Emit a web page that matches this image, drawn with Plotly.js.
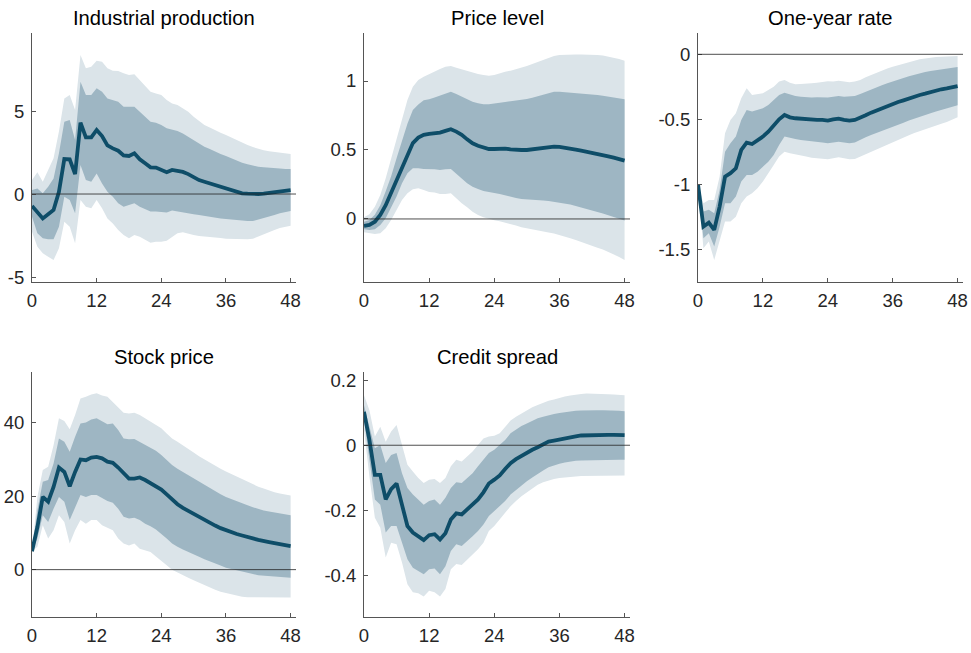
<!DOCTYPE html>
<html>
<head>
<meta charset="utf-8">
<script src="https://cdn.plot.ly/plotly-3.0.1.min.js"></script>
<style>html,body{margin:0;padding:0;background:#fff;}#chart{width:971px;height:653px;}</style>
</head>
<body>
<div id="chart"></div>
<script>
// Horizons (months)
const horizons = [0,1,2,3,4,5,6,7,8,9,10,11,12,13,14,15,16,17,18,19,20,21,22,23,24,25,26,27,28,29,30,31,32,33,34,35,36,37,38,39,40,41,42,43,44,45,46,47,48];

const panelTitles = ["Industrial production","Price level","One-year rate","Stock price","Credit spread"];

// Industrial production
const ipMedian = [-0.72,-1.06,-1.47,-1.22,-0.96,0.14,2.11,2.09,1.2,4.3, 3.41,3.41,3.86,3.49,2.93,2.75,2.61,2.33,2.29,2.45, 2.09,1.85,1.61,1.59,1.45,1.31,1.45,1.41,1.33,1.2, 1.0,0.84,0.74,0.64,0.52,0.44,0.34,0.22,0.12,0.04, 0.02,0.0,0.0,0.02,0.06,0.12,0.16,0.2,0.24];
const ip68Hi = [0.24,0.34,0.04,0.44,0.94,2.45,4.36,4.46,3.25,6.77, 5.96,5.96,6.37,6.16,5.76,5.66,5.56,5.26,5.26,5.26, 4.96,4.66,4.36,4.30,4.16,3.96,3.86,3.80,3.65,3.45, 3.25,3.05,2.85,2.71,2.55,2.41,2.29,2.15,2.01,1.89, 1.79,1.71,1.65,1.61,1.57,1.55,1.53,1.51,1.51];
const ip68Lo = [-1.37,-2.37,-2.67,-2.73,-2.73,-1.97,-0.16,-0.36,-1.16,1.75, 0.84,0.74,1.24,0.64,0.14,-0.16,-0.56,-0.76,-0.66,-0.56, -0.76,-0.92,-1.06,-1.06,-1.08,-1.12,-1.0,-1.08,-1.12,-1.16, -1.22,-1.27,-1.33,-1.37,-1.41,-1.47,-1.51,-1.55,-1.57,-1.61, -1.63,-1.63,-1.57,-1.47,-1.37,-1.27,-1.16,-1.08,-1.02];
const ip90Hi = [0.84,1.31,0.74,1.45,2.15,3.76,5.76,5.96,5.06,8.37, 7.57,7.67,8.03,7.97,7.57,7.43,7.41,7.27,7.17,7.21, 6.87,6.47,6.16,6.06,5.96,5.66,5.46,5.36,5.16,4.96, 4.66,4.42,4.16,4.0,3.82,3.69,3.55,3.39,3.25,3.09, 2.95,2.83,2.71,2.63,2.57,2.53,2.49,2.45,2.41];
const ip90Lo = [-2.27,-3.17,-3.57,-3.78,-3.98,-3.27,-1.67,-1.97,-2.97,-0.36, -0.76,-0.86,-0.36,-0.86,-1.47,-1.77,-2.17,-2.47,-2.67,-2.47, -2.57,-2.77,-2.93,-2.87,-2.87,-2.81,-2.57,-2.37,-2.31,-2.37, -2.47,-2.53,-2.57,-2.61,-2.63,-2.65,-2.69,-2.71,-2.73,-2.73, -2.73,-2.69,-2.57,-2.43,-2.31,-2.17,-2.05,-1.97,-1.91];

// Price level
const plMedian = [-0.05,-0.043,-0.02,0.03,0.10,0.19,0.28,0.38,0.47,0.55, 0.59,0.61,0.616,0.62,0.626,0.638,0.65,0.633,0.61,0.577, 0.548,0.531,0.517,0.507,0.507,0.51,0.51,0.505,0.5,0.5, 0.5,0.505,0.512,0.519,0.524,0.524,0.522,0.517,0.51,0.502, 0.495,0.488,0.481,0.473,0.464,0.454,0.444,0.435,0.423];
const pl68Hi = [-0.02,-0.007,0.03,0.10,0.20,0.31,0.44,0.57,0.69,0.79, 0.83,0.86,0.867,0.88,0.894,0.91,0.923,0.906,0.886,0.867, 0.85,0.838,0.831,0.831,0.838,0.843,0.848,0.853,0.857,0.862, 0.87,0.879,0.891,0.903,0.915,0.923,0.923,0.92,0.918,0.915, 0.913,0.908,0.903,0.899,0.894,0.886,0.879,0.872,0.867];
const pl68Lo = [-0.075,-0.08,-0.075,-0.043,0.005,0.077,0.162,0.258,0.331,0.367, 0.367,0.362,0.36,0.36,0.355,0.36,0.362,0.331,0.295,0.258, 0.234,0.217,0.203,0.193,0.188,0.181,0.174,0.162,0.152,0.145, 0.14,0.138,0.135,0.133,0.13,0.126,0.118,0.111,0.104,0.094, 0.085,0.075,0.063,0.051,0.039,0.027,0.014,0.002,-0.012];
const pl90Hi = [0.012,0.034,0.089,0.174,0.295,0.44,0.585,0.73,0.862,0.959, 1.007,1.031,1.051,1.068,1.087,1.104,1.109,1.097,1.085,1.072, 1.06,1.051,1.043,1.039,1.043,1.056,1.068,1.075,1.085,1.094, 1.109,1.123,1.138,1.152,1.169,1.181,1.188,1.191,1.193,1.193, 1.193,1.193,1.191,1.188,1.184,1.176,1.169,1.159,1.147];
const pl90Lo = [-0.097,-0.104,-0.109,-0.104,-0.068,-0.007,0.065,0.138,0.186,0.215, 0.222,0.21,0.196,0.191,0.181,0.181,0.186,0.15,0.114,0.085, 0.053,0.029,0.012,0,-0.01,-0.017,-0.024,-0.036,-0.048,-0.06, -0.07,-0.077,-0.085,-0.092,-0.099,-0.106,-0.116,-0.128,-0.14,-0.152, -0.164,-0.179,-0.193,-0.208,-0.222,-0.239,-0.256,-0.275,-0.297];

// One-year rate
const oyMedian = [-1.0,-1.326,-1.295,-1.351,-1.172,-0.941,-0.915,-0.877,-0.736,-0.679, -0.69,-0.664,-0.633,-0.595,-0.551,-0.5,-0.467,-0.485,-0.492,-0.497, -0.5,-0.505,-0.505,-0.505,-0.51,-0.5,-0.495,-0.505,-0.51,-0.505, -0.49,-0.469,-0.449,-0.431,-0.415,-0.397,-0.379,-0.367,-0.354,-0.338, -0.326,-0.313,-0.303,-0.29,-0.28,-0.269,-0.262,-0.251,-0.244];
const oy68Hi = [-1.0,-1.21,-1.197,-1.223,-1.044,-0.749,-0.685,-0.633,-0.505,-0.428, -0.441,-0.428,-0.415,-0.39,-0.351,-0.313,-0.295,-0.308,-0.321,-0.326, -0.331,-0.333,-0.331,-0.331,-0.333,-0.326,-0.321,-0.326,-0.326,-0.321, -0.305,-0.287,-0.269,-0.254,-0.238,-0.223,-0.208,-0.195,-0.182,-0.169, -0.156,-0.146,-0.136,-0.128,-0.121,-0.113,-0.108,-0.103,-0.097];
const oy68Lo = [-1.0,-1.415,-1.377,-1.479,-1.326,-1.146,-1.146,-1.095,-0.979,-0.928, -0.928,-0.903,-0.864,-0.826,-0.774,-0.697,-0.633,-0.641,-0.651,-0.659, -0.664,-0.672,-0.674,-0.679,-0.685,-0.679,-0.672,-0.679,-0.685,-0.679, -0.659,-0.638,-0.621,-0.603,-0.587,-0.572,-0.556,-0.541,-0.526,-0.51, -0.495,-0.479,-0.467,-0.454,-0.441,-0.428,-0.415,-0.403,-0.392];
const oy90Hi = [-1.0,-1.146,-1.121,-1.121,-0.941,-0.608,-0.505,-0.454,-0.338,-0.262, -0.313,-0.305,-0.3,-0.274,-0.249,-0.21,-0.197,-0.218,-0.231,-0.228, -0.228,-0.223,-0.218,-0.213,-0.208,-0.21,-0.203,-0.21,-0.215,-0.21, -0.197,-0.177,-0.159,-0.141,-0.126,-0.11,-0.095,-0.082,-0.069,-0.059, -0.049,-0.038,-0.031,-0.026,-0.021,-0.018,-0.015,-0.013,-0.013];
const oy90Lo = [-1.0,-1.492,-1.441,-1.582,-1.428,-1.287,-1.287,-1.249,-1.146,-1.095, -1.069,-1.031,-0.979,-0.915,-0.851,-0.787,-0.749,-0.762,-0.774,-0.779, -0.787,-0.795,-0.8,-0.803,-0.808,-0.8,-0.792,-0.8,-0.808,-0.805, -0.787,-0.767,-0.749,-0.731,-0.713,-0.695,-0.677,-0.659,-0.641,-0.623, -0.605,-0.59,-0.576,-0.562,-0.548,-0.535,-0.521,-0.505,-0.485];

// Stock price
const spMedian = [5.0,11.6,19.8,18.5,22.5,27.8,26.6,22.7,26.6,30.0, 29.8,30.5,30.7,30.3,29.4,29.1,27.8,26.2,24.8,24.8, 25.1,24.4,23.5,22.8,21.8,20.5,19.1,17.8,16.8,16.0, 15.1,14.2,13.5,12.7,12.0,11.3,10.7,10.2,9.7,9.3, 8.8,8.5,8.1,7.7,7.5,7.2,7.0,6.7,6.4];
const sp68Hi = [5.0,16.2,23.9,24.4,28.9,35.7,34.8,32.1,36.2,39.8, 40.1,40.9,41.2,40.5,39.6,39.8,38.0,35.7,35.5,35.6, 34.8,33.9,33.3,32.4,31.2,29.8,28.5,27.5,26.6,25.7, 24.8,23.9,23.0,22.1,21.2,20.5,19.8,19.2,18.5,18.0, 17.5,17.0,16.5,16.1,15.8,15.5,15.3,15.1,14.8];
const sp68Lo = [5.0,8.5,14.8,13.0,16.6,19.8,18.5,13.5,17.1,20.3, 19.8,20.3,20.3,19.4,18.7,18.2,16.6,14.4,13.9,14.1, 13.5,12.5,11.8,10.9,9.8,8.5,7.1,6.2,5.5,4.8, 4.1,3.5,2.8,2.2,1.6,1.1,0.5,0.1,-0.3,-0.6, -0.9,-1.2,-1.5,-1.6,-1.8,-1.9,-2.0,-2.1,-2.2];
const sp90Hi = [5.0,19.8,27.1,28.0,33.9,41.2,40.5,38.2,42.1,46.6, 47.1,47.7,48.0,47.4,47.1,45.7,44.2,42.7,42.5,42.7, 42.1,41.2,40.5,39.5,38.5,37.1,35.7,34.8,33.9,32.9, 31.9,30.9,30.0,29.1,28.2,27.5,26.7,26.0,25.3,24.5, 23.9,23.3,22.6,22.1,21.5,21.1,20.7,20.4,20.2];
const sp90Lo = [5.0,6.2,12.1,8.5,10.7,14.8,13.0,7.1,10.7,13.5, 12.5,13.5,13.5,12.1,11.4,10.7,8.5,7.1,6.6,7.1, 5.7,5.3,4.8,3.6,2.5,1.2,0,-0.9,-1.5,-2.2, -2.9,-3.6,-4.3,-4.9,-5.5,-6.0,-6.5,-6.8,-7.1,-7.4, -7.5,-7.6,-7.7,-7.7,-7.7,-7.6,-7.6,-7.6,-7.6];

// Credit spread
const csMedian = [0.103,0.016,-0.091,-0.091,-0.167,-0.135,-0.118,-0.183,-0.249,-0.269, -0.282,-0.292,-0.277,-0.274,-0.29,-0.271,-0.229,-0.21,-0.213,-0.198, -0.183,-0.167,-0.145,-0.118,-0.106,-0.093,-0.073,-0.055,-0.043,-0.033, -0.022,-0.014,-0.006,0.003,0.011,0.014,0.018,0.021,0.024,0.027, 0.03,0.031,0.031,0.031,0.032,0.032,0.032,0.031,0.031];
const cs68Hi = [0.123,0.057,-0.009,0.001,-0.055,-0.03,-0.024,-0.086,-0.132,-0.152, -0.167,-0.183,-0.172,-0.167,-0.183,-0.162,-0.132,-0.114,-0.116,-0.101, -0.086,-0.065,-0.045,-0.024,-0.014,0.001,0.016,0.037,0.049,0.059, 0.067,0.076,0.083,0.088,0.093,0.096,0.099,0.102,0.104,0.106, 0.107,0.108,0.108,0.108,0.108,0.108,0.107,0.106,0.105];
const cs68Lo = [0.078,-0.045,-0.167,-0.183,-0.269,-0.249,-0.249,-0.3,-0.351,-0.377, -0.387,-0.397,-0.382,-0.38,-0.397,-0.373,-0.326,-0.305,-0.31,-0.295, -0.28,-0.264,-0.244,-0.218,-0.203,-0.188,-0.172,-0.152,-0.137,-0.124, -0.111,-0.099,-0.088,-0.078,-0.068,-0.062,-0.057,-0.053,-0.05,-0.048, -0.047,-0.046,-0.045,-0.045,-0.045,-0.045,-0.045,-0.045,-0.045];
const cs90Hi = [0.154,0.108,0.027,0.057,0.011,0.042,0.062,0.001,-0.06,-0.081, -0.101,-0.116,-0.106,-0.104,-0.116,-0.101,-0.065,-0.045,-0.05,-0.035, -0.019,0.001,0.021,0.027,0.029,0.037,0.057,0.076,0.088,0.098, 0.108,0.117,0.124,0.131,0.137,0.141,0.146,0.15,0.153,0.156, 0.158,0.159,0.159,0.159,0.158,0.157,0.156,0.155,0.154];
const cs90Lo = [0.047,-0.096,-0.223,-0.254,-0.346,-0.3,-0.305,-0.361,-0.428,-0.453, -0.456,-0.466,-0.448,-0.453,-0.466,-0.443,-0.382,-0.366,-0.369,-0.351, -0.336,-0.32,-0.3,-0.264,-0.249,-0.229,-0.208,-0.188,-0.172,-0.157, -0.144,-0.133,-0.122,-0.114,-0.108,-0.104,-0.101,-0.099,-0.097,-0.096, -0.095,-0.094,-0.094,-0.093,-0.093,-0.093,-0.093,-0.093,-0.093];

// Tick labels
const xTickVals = [0,12,24,36,48];
const xTickText = ["0","12","24","36","48"];
const yTickVals = [[-5,0,5],[0,0.5,1],[-1.5,-1,-0.5,0],[0,20,40],[-0.4,-0.2,0,0.2]];
const yTickText = [["-5","0","5"],["0","0.5","1"],["-1.5","-1","-0.5","0"],["0","20","40"],["-0.4","-0.2","0","0.2"]];

const panels = [
  {med: ipMedian, hi68: ip68Hi, lo68: ip68Lo, hi90: ip90Hi, lo90: ip90Lo},
  {med: plMedian, hi68: pl68Hi, lo68: pl68Lo, hi90: pl90Hi, lo90: pl90Lo},
  {med: oyMedian, hi68: oy68Hi, lo68: oy68Lo, hi90: oy90Hi, lo90: oy90Lo},
  {med: spMedian, hi68: sp68Hi, lo68: sp68Lo, hi90: sp90Hi, lo90: sp90Lo},
  {med: csMedian, hi68: cs68Hi, lo68: cs68Lo, hi90: cs90Hi, lo90: cs90Lo}
];

// Layout geometry
const W = 971, H = 653;
const colDom = [[32/W, 296/W],[364/W, 630/W],[698/W, 963/W]];
const rowDom = [[1-282/H, 1-33/H],[1-617/H, 1-371.7/H]];
const yRanges = [[-5.3, 9.7],[-0.457, 1.348],[-1.752, 0.164],[-12.9, 53.9],[-0.529, 0.2265]];
const grid = [[0,0],[0,1],[0,2],[1,0],[1,1]];

const lineColor = "#0e4d68";
const darkBand = "#9eb6c3";
const lightBand = "#dbe4e9";
const axisColor = "#555555";
const fontFam = "Liberation Sans, Arial, Helvetica, sans-serif";

const traces = [];
const layout = {
  width: W, height: H,
  margin: {l:0, r:0, t:0, b:0},
  paper_bgcolor: "#ffffff", plot_bgcolor: "rgba(0,0,0,0)",
  showlegend: false,
  annotations: [], shapes: []
};

const revH = horizons.slice().reverse();
panels.forEach((p, i) => {
  const n = i + 1;
  const xa = "x" + (n === 1 ? "" : n), ya = "y" + (n === 1 ? "" : n);
  const [r, c] = grid[i];
  traces.push({x: horizons.concat(revH), y: p.hi90.concat(p.lo90.slice().reverse()),
    xaxis: xa, yaxis: ya, type: "scatter", mode: "lines", fill: "toself",
    fillcolor: lightBand, line: {width: 0, color: lightBand}, hoverinfo: "skip"});
  traces.push({x: horizons.concat(revH), y: p.hi68.concat(p.lo68.slice().reverse()),
    xaxis: xa, yaxis: ya, type: "scatter", mode: "lines", fill: "toself",
    fillcolor: darkBand, line: {width: 0, color: darkBand}, hoverinfo: "skip"});
  traces.push({x: horizons, y: p.med, xaxis: xa, yaxis: ya, type: "scatter", mode: "lines",
    line: {color: lineColor, width: 3.8}});

  const axCommon = {
    showline: true, linecolor: axisColor, linewidth: 1, mirror: false,
    ticks: "inside", ticklen: 4, tickcolor: axisColor, tickwidth: 1,
    showgrid: false, zeroline: false, fixedrange: true,
    tickfont: {family: fontFam, size: 18.5, color: "#262626"}
  };
  layout["xaxis" + (n === 1 ? "" : n)] = Object.assign({}, axCommon, {
    domain: colDom[c], range: [0, 49], anchor: ya,
    tickmode: "array", tickvals: xTickVals, ticktext: xTickText,
    ticklabelstandoff: 2
  });
  layout["yaxis" + (n === 1 ? "" : n)] = Object.assign({}, axCommon, {
    domain: rowDom[r], range: yRanges[i], anchor: xa,
    tickmode: "array", tickvals: yTickVals[i], ticktext: yTickText[i],
    ticklabelstandoff: 3
  });
  layout.shapes.push({type: "line", xref: xa + " domain", yref: ya, x0: 0, x1: 1, y0: 0, y1: 0,
    line: {color: "#222222", width: 0.8}, layer: "above"});
  layout.annotations.push({
    text: panelTitles[i], xref: "paper", yref: "paper",
    x: (colDom[c][0] + colDom[c][1]) / 2,
    y: r === 0 ? 1 - 18/H : 1 - 357/H,
    xanchor: "center", yanchor: "middle", showarrow: false,
    font: {family: fontFam, size: 20.2, color: "#000000"}
  });
});

Plotly.newPlot("chart", traces, layout, {staticPlot: true, displayModeBar: false});
</script>
</body>
</html>
